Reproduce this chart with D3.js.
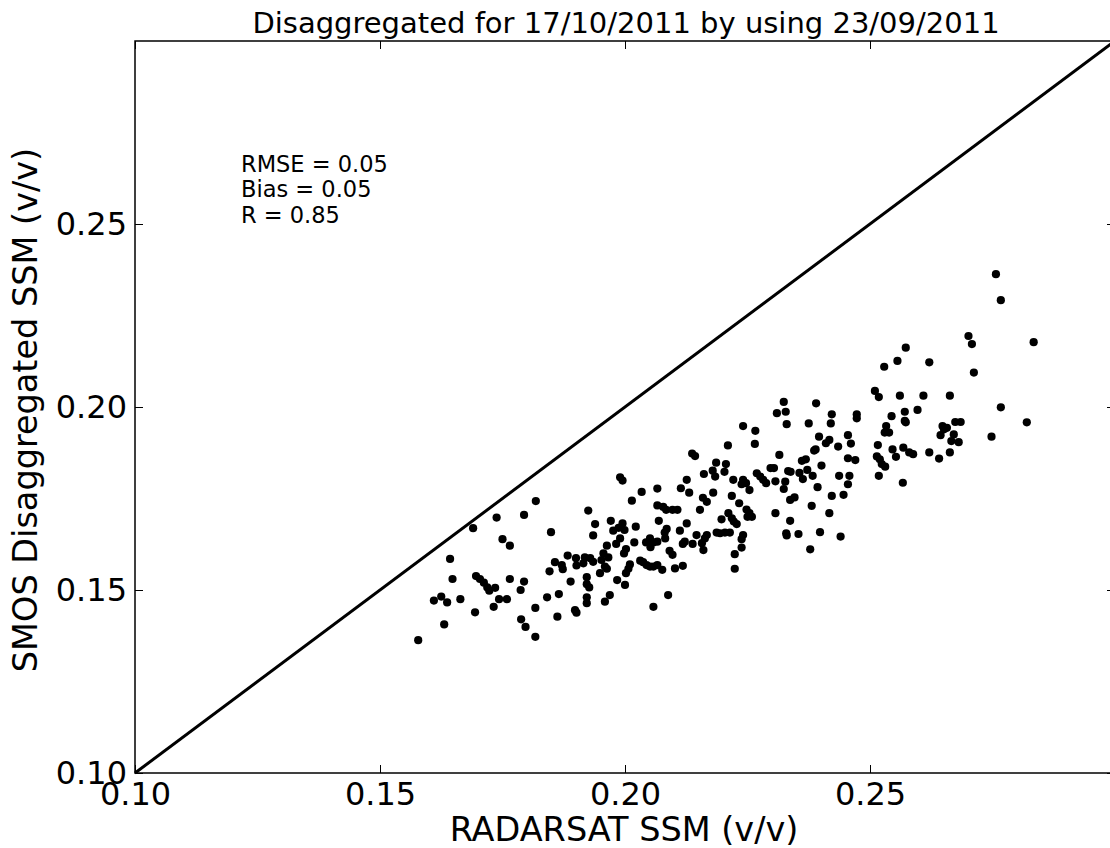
<!DOCTYPE html>
<html>
<head>
<meta charset="utf-8">
<script src="https://cdn.jsdelivr.net/npm/d3@7"></script>
<style>
    body { margin: 0; background: #fff; }
    svg { display: block; font-family: "DejaVu Sans", sans-serif; }
</style>
</head>
<body>
<script>
//RADARSAT SSM (x) and SMOS disaggregated SSM (y)
let radarsat = [
    0.1818, 0.1738, 0.1794, 0.1690, 0.1849, 0.1750, 0.1765, 0.1643, 0.1846, 0.1648,
    0.1696, 0.1704, 0.1712, 0.1719, 0.1723, 0.1735, 0.1765, 0.1794, 0.1787, 0.1610,
    0.1625, 0.1637, 0.1664, 0.1743, 0.1759, 0.1841, 0.1732, 0.1694, 0.1817, 0.1788,
    0.1797, 0.1631, 0.1578, 0.1817, 0.1990, 0.1995, 0.2034, 0.2066, 0.2014, 0.1925,
    0.2066, 0.2078, 0.2084, 0.2069, 0.1971, 0.1939, 0.1935, 0.1995, 0.1987, 0.1976,
    0.1999, 0.2022, 0.2085, 0.2081, 0.1990, 0.1982, 0.1963, 0.2019, 0.2043, 0.2051,
    0.2058, 0.2066, 0.2052, 0.2082, 0.2002, 0.1998, 0.1956, 0.1966, 0.1952, 0.1959,
    0.1963, 0.2091, 0.1883, 0.1900, 0.1901, 0.1918, 0.1929, 0.1935, 0.1915, 0.1857,
    0.1871, 0.1873, 0.2031, 0.2037, 0.2044, 0.2051, 0.2058, 0.2066, 0.2076, 0.2010,
    0.2007, 0.2002, 0.1949, 0.1922, 0.1922, 0.1927, 0.1889, 0.1984, 0.2000, 0.1969,
    0.1959, 0.1922, 0.1922, 0.1865, 0.2088, 0.1898, 0.1901, 0.1862, 0.2058, 0.2097,
    0.2107, 0.2241, 0.2266, 0.2265, 0.2210, 0.2137, 0.2143, 0.2315, 0.2186, 0.2206,
    0.2161, 0.2179, 0.2184, 0.2203, 0.2221, 0.2241, 0.2247, 0.2238, 0.2269, 0.2276,
    0.2282, 0.2288, 0.2297, 0.2304, 0.2307, 0.2126, 0.2114, 0.2131, 0.2254, 0.2180,
    0.2218, 0.2159, 0.2167, 0.2233, 0.2248, 0.2254, 0.2250, 0.2259, 0.2307, 0.2153,
    0.2211, 0.2218, 0.2222, 0.2228, 0.2197, 0.2126, 0.2112, 0.2187, 0.2194, 0.2204,
    0.2214, 0.2167, 0.2163, 0.2146, 0.2241, 0.2238, 0.2122, 0.2118, 0.2138, 0.2157,
    0.2160, 0.2238, 0.2097, 0.2224, 0.2118, 0.2102, 0.2224, 0.2510, 0.2518, 0.2324,
    0.2390, 0.2310, 0.2328, 0.2422, 0.2473, 0.2473, 0.2330, 0.2375, 0.2420, 0.2396,
    0.2417, 0.2410, 0.2455, 0.2461, 0.2435, 0.2516, 0.2389, 0.2386, 0.2361, 0.2369,
    0.2455, 0.2470, 0.2514, 0.2520, 0.2524, 0.2531, 0.2401, 0.2333, 0.2338, 0.2356,
    0.2372, 0.2383, 0.2363, 0.2437, 0.2458, 0.2518, 0.2327, 0.2324, 0.2393, 0.2455,
    0.2422, 0.2446, 0.2337, 0.2346, 0.2381, 0.2417, 0.2337, 0.2329, 0.2330, 0.2354,
    0.2398, 0.2440, 0.2378, 0.2573, 0.2529, 0.2556, 0.2621, 0.2561, 0.2609, 0.2663,
    0.2571, 0.2597, 0.2544, 0.2571, 0.2573, 0.2674, 0.2685, 0.2533, 0.2530, 0.2539,
    0.2648, 0.2657, 0.2651, 0.2644, 0.2671, 0.2666, 0.2681, 0.2568, 0.2546, 0.2553,
    0.2580, 0.2588, 0.2621, 0.2641, 0.2663, 0.2567, 0.2757, 0.2767, 0.2701, 0.2708,
    0.2834, 0.2712, 0.2767, 0.2820, 0.2748
];
let smos = [
    0.1743, 0.1698, 0.1705, 0.1669, 0.1658, 0.1639, 0.1621, 0.1585, 0.1551, 0.1530,
    0.1538, 0.1530, 0.1520, 0.1507, 0.1498, 0.1506, 0.1530, 0.1523, 0.1500, 0.1471,
    0.1482, 0.1466, 0.1475, 0.1475, 0.1475, 0.1480, 0.1454, 0.1439, 0.1451, 0.1420,
    0.1399, 0.1406, 0.1363, 0.1372, 0.1808, 0.1799, 0.1768, 0.1777, 0.1744, 0.1717,
    0.1731, 0.1727, 0.1719, 0.1689, 0.1689, 0.1680, 0.1649, 0.1682, 0.1670, 0.1662,
    0.1664, 0.1673, 0.1667, 0.1657, 0.1641, 0.1626, 0.1621, 0.1630, 0.1630, 0.1641,
    0.1630, 0.1632, 0.1617, 0.1641, 0.1612, 0.1600, 0.1600, 0.1589, 0.1582, 0.1564,
    0.1558, 0.1607, 0.1594, 0.1587, 0.1567, 0.1589, 0.1587, 0.1577, 0.1573, 0.1576,
    0.1568, 0.1557, 0.1580, 0.1576, 0.1568, 0.1564, 0.1564, 0.1568, 0.1555, 0.1570,
    0.1558, 0.1546, 0.1546, 0.1535, 0.1516, 0.1507, 0.1523, 0.1527, 0.1514, 0.1486,
    0.1468, 0.1480, 0.1464, 0.1489, 0.1486, 0.1445, 0.1438, 0.1427, 0.1454, 0.1719,
    0.1719, 0.1948, 0.1935, 0.1899, 0.1895, 0.1873, 0.1866, 0.1869, 0.1848, 0.1844,
    0.1817, 0.1826, 0.1810, 0.1823, 0.1801, 0.1801, 0.1792, 0.1789, 0.1819, 0.1810,
    0.1801, 0.1792, 0.1833, 0.1833, 0.1797, 0.1801, 0.1778, 0.1766, 0.1773, 0.1766,
    0.1757, 0.1752, 0.1741, 0.1737, 0.1720, 0.1710, 0.1700, 0.1700, 0.1710, 0.1719,
    0.1710, 0.1696, 0.1687, 0.1680, 0.1693, 0.1682, 0.1662, 0.1657, 0.1655, 0.1657,
    0.1657, 0.1650, 0.1641, 0.1650, 0.1650, 0.1639, 0.1632, 0.1626, 0.1626, 0.1628,
    0.1609, 0.1616, 0.1596, 0.1598, 0.1566, 0.1559, 0.1558, 0.2044, 0.2027, 0.2014,
    0.2010, 0.1983, 0.1987, 0.1980, 0.1980, 0.1969, 0.1953, 0.1955, 0.1955, 0.1919,
    0.1910, 0.1901, 0.1923, 0.1900, 0.1892, 0.1896, 0.1884, 0.1881, 0.1853, 0.1857,
    0.1860, 0.1855, 0.1865, 0.1857, 0.1844, 0.1837, 0.1840, 0.1825, 0.1823, 0.1820,
    0.1828, 0.1812, 0.1803, 0.1812, 0.1812, 0.1812, 0.1796, 0.1776, 0.1781, 0.1789,
    0.1757, 0.1760, 0.1746, 0.1753, 0.1730, 0.1710, 0.1689, 0.1655, 0.1649, 0.1653,
    0.1658, 0.1646, 0.1611, 0.2162, 0.2110, 0.2126, 0.2122, 0.2031, 0.2031, 0.2031,
    0.1987, 0.1992, 0.1975, 0.1962, 0.1958, 0.1959, 0.1959, 0.1948, 0.1930, 0.1930,
    0.1948, 0.1943, 0.1939, 0.1923, 0.1925, 0.1907, 0.1904, 0.1889, 0.1884, 0.1864,
    0.1876, 0.1871, 0.1876, 0.1859, 0.1876, 0.1793, 0.2363, 0.2292, 0.2194, 0.2172,
    0.2177, 0.2094, 0.1999, 0.1958, 0.1919
];

//axis ticks and the 1:1 line
let tickValues = [0.10, 0.15, 0.20, 0.25];
let oneToOne = [0.10, 0.30];

//statistics shown in the corner
let stats = ["RMSE = 0.05", "Bias = 0.05", "R = 0.85"];

let titleText = "Disaggregated for 17/10/2011 by using 23/09/2011";
let xLabel = "RADARSAT SSM (v/v)";
let yLabel = "SMOS Disaggregated SSM (v/v)";

window.onload = drawChart();

function drawChart() {
    let width = 1110,
        height = 848;

    //plot box in pixels (right edge falls just outside the page)
    let margin = {left: 135, top: 41, right: 1115, bottom: 773};

    let svg = d3.select("body")
        .append("svg")
        .attr("width", width)
        .attr("height", height);

    let x = d3.scaleLinear().domain([0.10, 0.30]).range([margin.left, margin.right]);
    let y = d3.scaleLinear().domain([0.10, 0.30]).range([margin.bottom, margin.top]);

    //title
    svg.append("text")
        .attr("x", 626)
        .attr("y", 33)
        .attr("text-anchor", "middle")
        .style("font-size", "29px")
        .text(titleText);

    //points
    let points = radarsat.map(function (d, i) { return [d, smos[i]]; });
    svg.append("g")
        .selectAll("circle")
        .data(points)
        .enter()
        .append("circle")
        .attr("cx", function (d) { return x(d[0]); })
        .attr("cy", function (d) { return y(d[1]); })
        .attr("r", 4.1)
        .attr("fill", "#000");

    //1:1 line
    svg.append("line")
        .attr("x1", x(oneToOne[0]))
        .attr("y1", y(oneToOne[0]))
        .attr("x2", x(oneToOne[1]))
        .attr("y2", y(oneToOne[1]))
        .attr("stroke", "#000")
        .attr("stroke-width", 3);

    //axes, ticks pointing inward
    let fmt = d3.format(".2f");
    let bottom = svg.append("g")
        .attr("transform", "translate(0," + margin.bottom + ")")
        .call(d3.axisBottom(x).tickValues(tickValues).tickFormat(fmt).tickSizeInner(-8).tickSizeOuter(0).tickPadding(9));
    let left = svg.append("g")
        .attr("transform", "translate(" + margin.left + ",0)")
        .call(d3.axisLeft(y).tickValues(tickValues).tickFormat(fmt).tickSizeInner(-8).tickSizeOuter(0).tickPadding(8));
    let top = svg.append("g")
        .attr("transform", "translate(0," + margin.top + ")")
        .call(d3.axisTop(x).tickValues(tickValues).tickFormat("").tickSizeInner(-8).tickSizeOuter(0));
    let right = svg.append("g")
        .attr("transform", "translate(" + margin.right + ",0)")
        .call(d3.axisRight(y).tickValues(tickValues).tickFormat("").tickSizeInner(-8).tickSizeOuter(0));

    [bottom, left, top, right].forEach(function (g) {
        g.select(".domain").remove();
        g.selectAll("line").attr("stroke", "#000").attr("stroke-width", 1);
        g.selectAll("text")
            .attr("fill", "#000")
            .style("font-family", "DejaVu Sans, sans-serif")
            .style("font-size", "32px");
    });

    //frame
    svg.append("rect")
        .attr("x", margin.left)
        .attr("y", margin.top)
        .attr("width", margin.right - margin.left)
        .attr("height", margin.bottom - margin.top)
        .attr("fill", "none")
        .attr("stroke", "#000")
        .attr("stroke-width", 1.5);

    //axis labels
    svg.append("text")
        .attr("x", 624)
        .attr("y", 841)
        .attr("text-anchor", "middle")
        .style("font-size", "33.5px")
        .text(xLabel);

    svg.append("text")
        .attr("transform", "translate(37,410) rotate(-90)")
        .attr("text-anchor", "middle")
        .style("font-size", "33.5px")
        .text(yLabel);

    //stats block
    svg.append("g")
        .selectAll("text")
        .data(stats)
        .enter()
        .append("text")
        .attr("x", 241)
        .attr("y", function (d, i) { return 171.5 + i * 25.5; })
        .style("font-size", "22.5px")
        .text(function (d) { return d; });
}
</script>
</body>
</html>
